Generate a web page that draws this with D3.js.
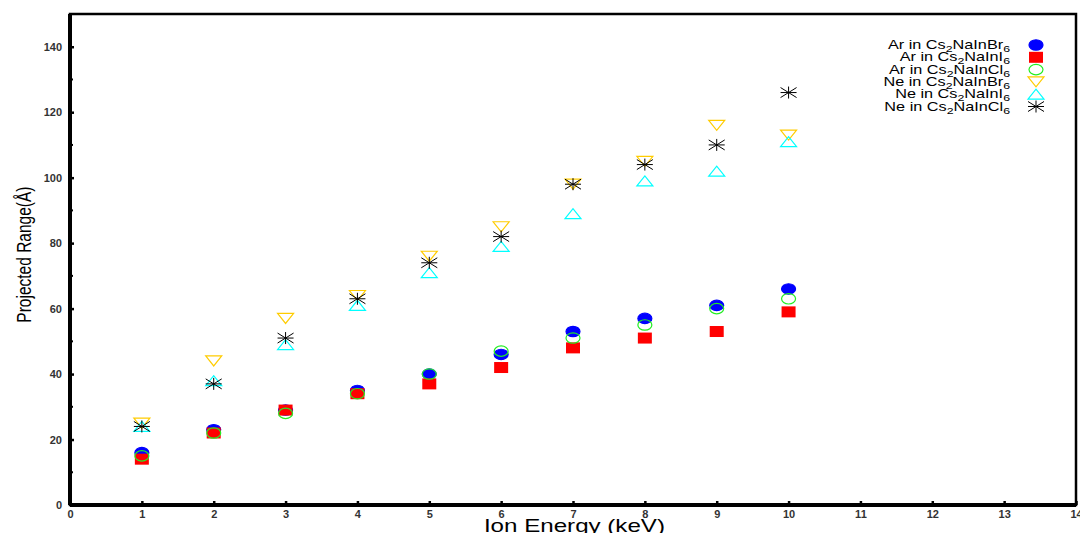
<!DOCTYPE html>
<meta charset="utf-8">
<style>
body { margin: 0; background: #fff; }
.tick text { font: bold 11px "Liberation Sans", Arial, sans-serif; fill: #333; }
.legend text { font: 12.5px "Liberation Sans", Arial, sans-serif; fill: #000; }
.title { font: 17.5px "Liberation Sans", Arial, sans-serif; fill: #000; }
.ytitle { font: 15.5px "Liberation Sans Narrow", "Liberation Sans", Arial, sans-serif; fill: #000; }
</style>
<body>
<script src="https://cdnjs.cloudflare.com/ajax/libs/d3/7.8.5/d3.min.js"></script>
<script>

// data
var energy = [1, 2, 3, 4, 5, 6, 7, 8, 9, 10];
var arBr = [16, 23, 29, 35, 40, 46, 53, 57, 61, 66];
var arI  = [14, 22, 29, 34, 37, 42, 48, 51, 53, 59];
var arCl = [15, 22, 28, 34, 40, 47, 51, 55, 60, 63];
var neBr = [25, 44, 57, 64, 76, 85, 98, 105, 116, 113];
var neI  = [24, 38, 49, 61, 71, 79, 89, 99, 102, 111];
var neCl = [24, 37, 51, 63, 74, 82, 98, 104, 110, 126];
var xTicks = d3.range(0, 15);
var yTicks = d3.range(0, 141, 20);

var series = [
  {ion: "Ar", salt: ["Cs", "2", "NaInBr", "6"], values: arBr, shape: "circle", color: "#0000ff", filled: true},
  {ion: "Ar", salt: ["Cs", "2", "NaInI", "6"], values: arI, shape: "square", color: "#ff0000", filled: true},
  {ion: "Ar", salt: ["Cs", "2", "NaInCl", "6"], values: arCl, shape: "circle", color: "#22ee22", filled: false},
  {ion: "Ne", salt: ["Cs", "2", "NaInBr", "6"], values: neBr, shape: "down", color: "#ffcc00", filled: false},
  {ion: "Ne", salt: ["Cs", "2", "NaInI", "6"], values: neI, shape: "up", color: "#00ffff", filled: false},
  {ion: "Ne", salt: ["Cs", "2", "NaInCl", "6"], values: neCl, shape: "star", color: "#000", filled: false}
];

var margin = {top: 14, right: 4, bottom: 28, left: 70},
    W = 1080, H = 533,
    width = W - margin.left - margin.right,
    height = H - margin.top - margin.bottom;

var x = d3.scaleLinear().domain([0, 14]).range([0, width]);
var y = d3.scaleLinear().domain([0, 150]).range([height, 0]);

var svg = d3.select("body").append("svg")
    .attr("width", W)
    .attr("height", H);
var g = svg.append("g")
    .attr("transform", "translate(" + margin.left + "," + margin.top + ")");

// frame
g.append("rect")
    .attr("width", width).attr("height", height)
    .attr("fill", "none").attr("stroke", "#000").attr("stroke-width", 2.5);
g.append("line").attr("x1", 0).attr("x2", 0).attr("y1", 0).attr("y2", height)
    .attr("stroke", "#000").attr("stroke-width", 4);
g.append("line").attr("x1", 0).attr("x2", width).attr("y1", height).attr("y2", height)
    .attr("stroke", "#000").attr("stroke-width", 4);

// axes, ticks pointing inward
var xAxis = g.append("g")
    .attr("transform", "translate(0," + height + ")")
    .call(d3.axisBottom(x).tickValues(xTicks).tickSize(-4).tickPadding(5));
xAxis.select(".domain").remove();
xAxis.selectAll(".tick line").attr("stroke-width", 2.5);

var yAxis = g.append("g")
    .call(d3.axisLeft(y).tickValues(yTicks).tickSize(-4).tickPadding(8));
yAxis.select(".domain").remove();
yAxis.selectAll(".tick line").attr("stroke-width", 2.5);

// minor y ticks
g.append("g").selectAll("line")
    .data(d3.range(10, 150, 20))
  .enter().append("line")
    .attr("x1", 0).attr("x2", 3)
    .attr("y1", function(d) { return y(d); })
    .attr("y2", function(d) { return y(d); })
    .attr("stroke", "#000").attr("stroke-width", 2);

// axis titles (the original is stretched sideways)
svg.append("text").attr("class", "title")
    .attr("transform", "translate(" + (margin.left + x(7.02)) + ",532) scale(1.38,1)")
    .attr("text-anchor", "middle")
    .text("Ion Energy (keV)");
svg.append("text").attr("class", "ytitle")
    .attr("transform", "translate(31," + (margin.top + y(76.5)) + ") rotate(-90) scale(1,1.3)")
    .attr("text-anchor", "middle")
    .text("Projected Range(Å)");

// marker shapes
function drawMarker(sel, shape, color, filled) {
  if (shape === "circle") {
    sel.append("ellipse").attr("rx", 7).attr("ry", 5.2)
      .attr("fill", filled ? color : "none")
      .attr("stroke", color).attr("stroke-width", 1.2);
  } else if (shape === "square") {
    sel.append("rect").attr("x", -7).attr("y", -5.5).attr("width", 14).attr("height", 11)
      .attr("fill", color);
  } else if (shape === "down") {
    sel.append("path").attr("d", "M-8,-5L8,-5L0,5Z")
      .attr("fill", "none").attr("stroke", color).attr("stroke-width", 1.2);
  } else if (shape === "up") {
    sel.append("path").attr("d", "M-8,5L8,5L0,-5Z")
      .attr("fill", "none").attr("stroke", color).attr("stroke-width", 1.2);
  } else {
    sel.append("path").attr("d", "M-8,0L8,0M0,-6L0,6M-8,-5L8,5M-8,5L8,-5")
      .attr("fill", "none").attr("stroke", color).attr("stroke-width", 1);
  }
}

series.forEach(function(s) {
  var pts = g.append("g").selectAll("g")
      .data(energy.map(function(e, i) { return {e: e, v: s.values[i]}; }))
    .enter().append("g")
      .attr("transform", function(d) { return "translate(" + x(d.e) + "," + y(d.v) + ")"; });
  drawMarker(pts, s.shape, s.color, s.filled);
});

// legend
var legend = svg.append("g").attr("class", "legend");
series.forEach(function(s, i) {
  var row = legend.append("g").attr("transform", "translate(0," + (45 + i * 12.3) + ")");
  var t = row.append("text")
      .attr("transform", "translate(1010,4) scale(1.3,1)")
      .attr("text-anchor", "end");
  t.append("tspan").text(s.ion + " in " + s.salt[0]);
  t.append("tspan").attr("dy", 3).attr("font-size", "9.5px").text(s.salt[1]);
  t.append("tspan").attr("dy", -3).text(s.salt[2]);
  t.append("tspan").attr("dy", 3).attr("font-size", "9.5px").text(s.salt[3]);
  var m = row.append("g").attr("transform", "translate(1036,0)");
  drawMarker(m, s.shape, s.color, s.filled);
});

</script>
</body>
